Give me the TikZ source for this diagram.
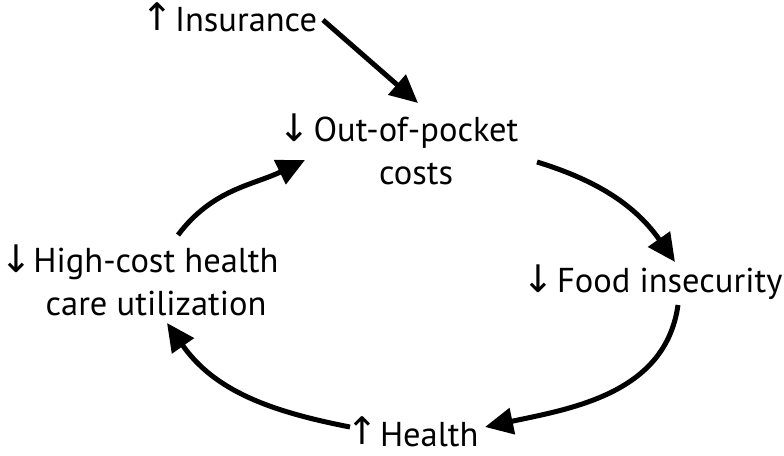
\documentclass[tikz,border=0pt]{standalone}
\usepackage{fontspec}
\setmainfont{PT Sans}
\newfontfamily\arrfont{DejaVu Sans}
\usetikzlibrary{arrows.meta}
\newcommand{\upar}{\llap{\raisebox{1.5pt}{\arrfont\fontsize{38}{38}\selectfont ↑}\kern2pt}}
\newcommand{\dnar}{\llap{\raisebox{0.5pt}{\arrfont\fontsize{38}{38}\selectfont ↓}\kern3pt}}
\newcommand{\dnarb}{\llap{\raisebox{0.5pt}{\arrfont\fontsize{38}{38}\selectfont ↓}\kern1pt}}
\begin{document}
\begin{tikzpicture}[x=1pt,y=1pt,
  lbl/.style={inner sep=0pt, outer sep=0pt, font=\fontsize{34.5}{43}\selectfont},
  link/.style={line width=5pt, -{Triangle[length=28pt,width=26pt]}}]
\useasboundingbox (0,0) rectangle (784,455);
\node[lbl, anchor=base west] (ins) at (175,423) {\upar Insurance};
\node[lbl, anchor=base, align=center] (oop) at (416,270) {\dnar Out-of-pocket\\costs};
\node[lbl, anchor=base west] (food) at (557,162) {\dnar Food insecurity};
\node[lbl, anchor=base, align=center] (high) at (156,139) {\dnarb High-cost health\\care utilization};
\node[lbl, anchor=base west] (health) at (380,9) {\upar Health};
% connector end points next to the nodes
\coordinate (a1s) at (323,435);
\coordinate (a1e) at (418,352);
\coordinate (a2s) at (537,293);
\coordinate (a2e) at (675,193);
\coordinate (a3s) at (678,150);
\coordinate (a3e) at (485,28);
\coordinate (a4s) at (350,28);
\coordinate (a4e) at (167,132);
\coordinate (a5s) at (178,220);
\coordinate (a5e) at (305,295);
\draw[link] (a1s) -- (a1e);
\draw[link] (a2s) to[out=-17,in=125] (a2e);
\draw[link] (a3s) to[out=-98,in=12] (a3e);
\draw[link] (a4s) to[out=169,in=-55] (a4e);
\draw[link] (a5s) to[out=53,in=206] (a5e);
\end{tikzpicture}
\end{document}
